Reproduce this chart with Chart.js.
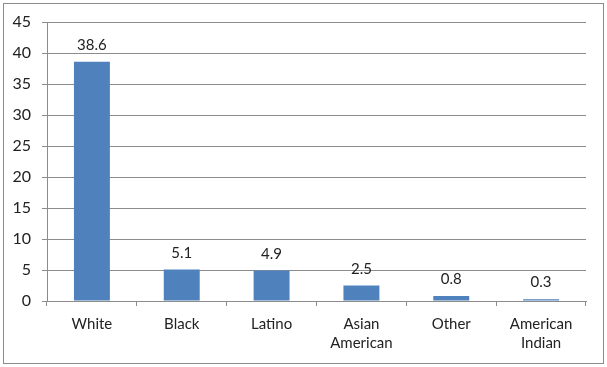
<!DOCTYPE html>
<html><head><meta charset="utf-8">
<script src="https://cdn.jsdelivr.net/npm/chart.js@4"></script>
<style>
html,body{margin:0;padding:0;background:#fff;}
#wrap{position:relative;width:607px;height:367px;}
#frame{position:absolute;left:3px;top:3px;width:599px;height:359px;border:1px solid #8c8c8c;box-sizing:content-box;pointer-events:none;}
canvas{position:absolute;left:0;top:0;}
</style></head>
<body>
<div id="wrap"><canvas id="c" width="607" height="367"></canvas><div id="frame"></div></div>
<script>
const categories = [["White"], ["Black"], ["Latino"], ["Asian", "American"], ["Other"], ["American", "Indian"]];
const values = [38.6, 5.1, 4.9, 2.5, 0.8, 0.3];
const yTicks = [0, 5, 10, 15, 20, 25, 30, 35, 40, 45];

const FONT = "Lato, 'Open Sans', sans-serif";
const labelPlugin = {
  id: 'vals',
  afterDatasetsDraw(chart) {
    const ctx = chart.ctx;
    const meta = chart.getDatasetMeta(0);
    ctx.save();
    ctx.font = "15px " + FONT;
    ctx.fillStyle = "#222";
    ctx.textAlign = "center";
    ctx.textBaseline = "bottom";
    meta.data.forEach((bar, i) => {
      ctx.fillText(values[i].toFixed(1), bar.x, bar.y - 9);
    });
    ctx.restore();
  }
};

new Chart(document.getElementById('c'), {
  type: 'bar',
  data: {
    labels: categories,
    datasets: [{ data: values, backgroundColor: '#4F81BD', borderWidth: 0,
      categoryPercentage: 1.0, barPercentage: 0.4 }]
  },
  options: {
    responsive: false,
    animation: false,
    devicePixelRatio: 1,
    layout: { padding: { left: 0, top: 22, right: 21, bottom: 0 } },
    plugins: { legend: { display: false }, tooltip: { enabled: false } },
    scales: {
      y: {
        min: 0, max: 45,
        afterBuildTicks(scale) { scale.ticks = yTicks.map(v => ({ value: v })); },
        afterFit(scale) { scale.width = 47; },
        ticks: { color: '#222', font: { family: FONT, size: 16 }, padding: 11 },
        grid: { color: '#8c8c8c', tickLength: 5, lineWidth: 1 },
        border: { color: '#8c8c8c' }
      },
      x: {
        afterFit(scale) { scale.height = 66; },
        ticks: { color: '#222', font: { family: FONT, size: 15, lineHeight: 1.3 }, padding: 8, maxRotation: 0, autoSkip: false },
        grid: { offset: true, drawOnChartArea: false, drawTicks: true, tickLength: 5, color: '#8c8c8c' },
        border: { color: '#8c8c8c' }
      }
    }
  },
  plugins: [labelPlugin]
});
</script>
</body></html>
